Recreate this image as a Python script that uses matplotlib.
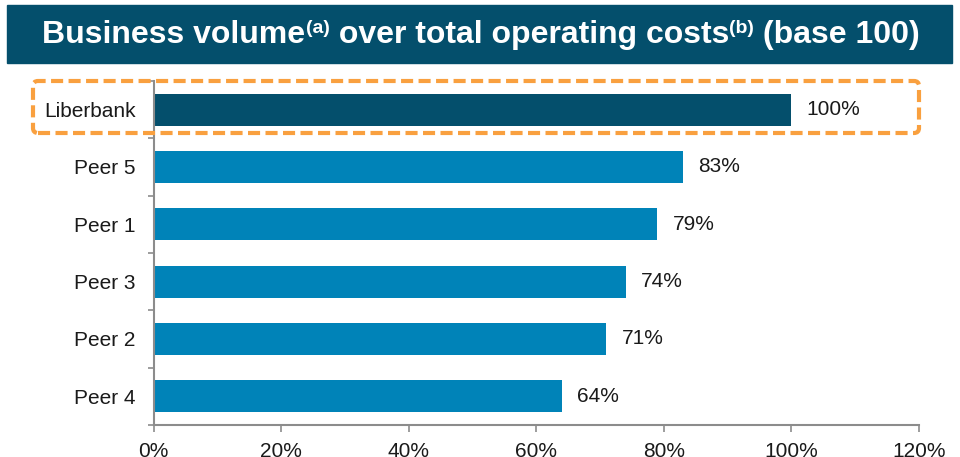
import numpy as np
import matplotlib
matplotlib.use('Agg')
import matplotlib.pyplot as plt
import matplotlib.patches as mpatches

# data
banks = ['Liberbank', 'Peer 5', 'Peer 1', 'Peer 3', 'Peer 2', 'Peer 4']
values = [100, 83, 79, 74, 71, 64]
xticks = [0, 20, 40, 60, 80, 100, 120]

plt.rcParams['font.family'] = ['Liberation Sans', 'DejaVu Sans']

dark = '#044f6c'
blue = '#0083b8'
grey = '#8c8c8c'
orange = '#f9a03f'
fs = 15

W, H = 960, 457
fig = plt.figure(figsize=(W / 100, H / 100), dpi=100)
ax = fig.add_axes([153.5 / W, 1 - 425 / H, (919 - 153.5) / W, (425 - 81) / H])

# bars
ypos = np.arange(len(banks))
colors = [dark] + [blue] * (len(banks) - 1)
ax.barh(ypos, values, height=0.56, color=colors, zorder=2)
for y, v in zip(ypos, values):
    ax.text(v + 2.4, y, f'{v}%', va='center', ha='left', fontsize=fs, color='#1a1a1a')

ax.set_xlim(0, 120)
ax.set_ylim(len(banks) - 0.5, -0.5)
ax.set_xticks(xticks)
ax.set_xticklabels([f'{t}%' for t in xticks], fontsize=fs, color='#1a1a1a')
ax.set_yticks(ypos)
ax.set_yticklabels(banks, fontsize=fs, color='#1a1a1a')
ax.set_yticks(np.arange(-0.5, len(banks), 1), minor=True)
ax.tick_params(axis='y', which='major', length=0, pad=13)
ax.tick_params(axis='y', which='minor', length=4.5, width=1.2, color=grey, direction='out')
ax.tick_params(axis='x', length=5, width=1.2, color=grey, direction='out', pad=7)
for s in ['top', 'right']:
    ax.spines[s].set_visible(False)
for s in ['left', 'bottom']:
    ax.spines[s].set_color(grey)
    ax.spines[s].set_linewidth(1.5)

# highlight box round Liberbank
box = mpatches.FancyBboxPatch((0.33, (H - 133) / 100), 8.86, 0.52,
                              boxstyle='round,pad=0,rounding_size=0.05',
                              transform=fig.dpi_scale_trans, fill=False,
                              edgecolor=orange, lw=3, linestyle=(0, (2.9, 1.3)),
                              zorder=5, clip_on=False)
fig.patches.append(box)

# title banner
banner = mpatches.Rectangle((7 / W, 1 - 63 / H), 945 / W, 58 / H,
                            transform=fig.transFigure, color=dark, zorder=0)
fig.patches.append(banner)

ty = 1 - 43 / H
pieces = [('Business volume', 23, 0), ('(a)', 14, 10), (' over total operating costs', 23, 0),
          ('(b)', 14, 10), (' (base 100)', 23, 0)]
texts = []
for s, size, rise in pieces:
    t = fig.text(0, ty, s, fontsize=size, fontweight='bold', color='white',
                 va='baseline', ha='left')
    texts.append(t)

# place the title pieces one after another and centre the whole line
fig.canvas.draw()
r = fig.canvas.get_renderer()
widths = [t.get_window_extent(r).width for t in texts]
total = sum(widths)
x = 481 - total / 2
for t, (s, size, rise), w in zip(texts, pieces, widths):
    t.set_position((x / W, ty + rise / H))
    x += w

fig.savefig('out.png', dpi=100)
